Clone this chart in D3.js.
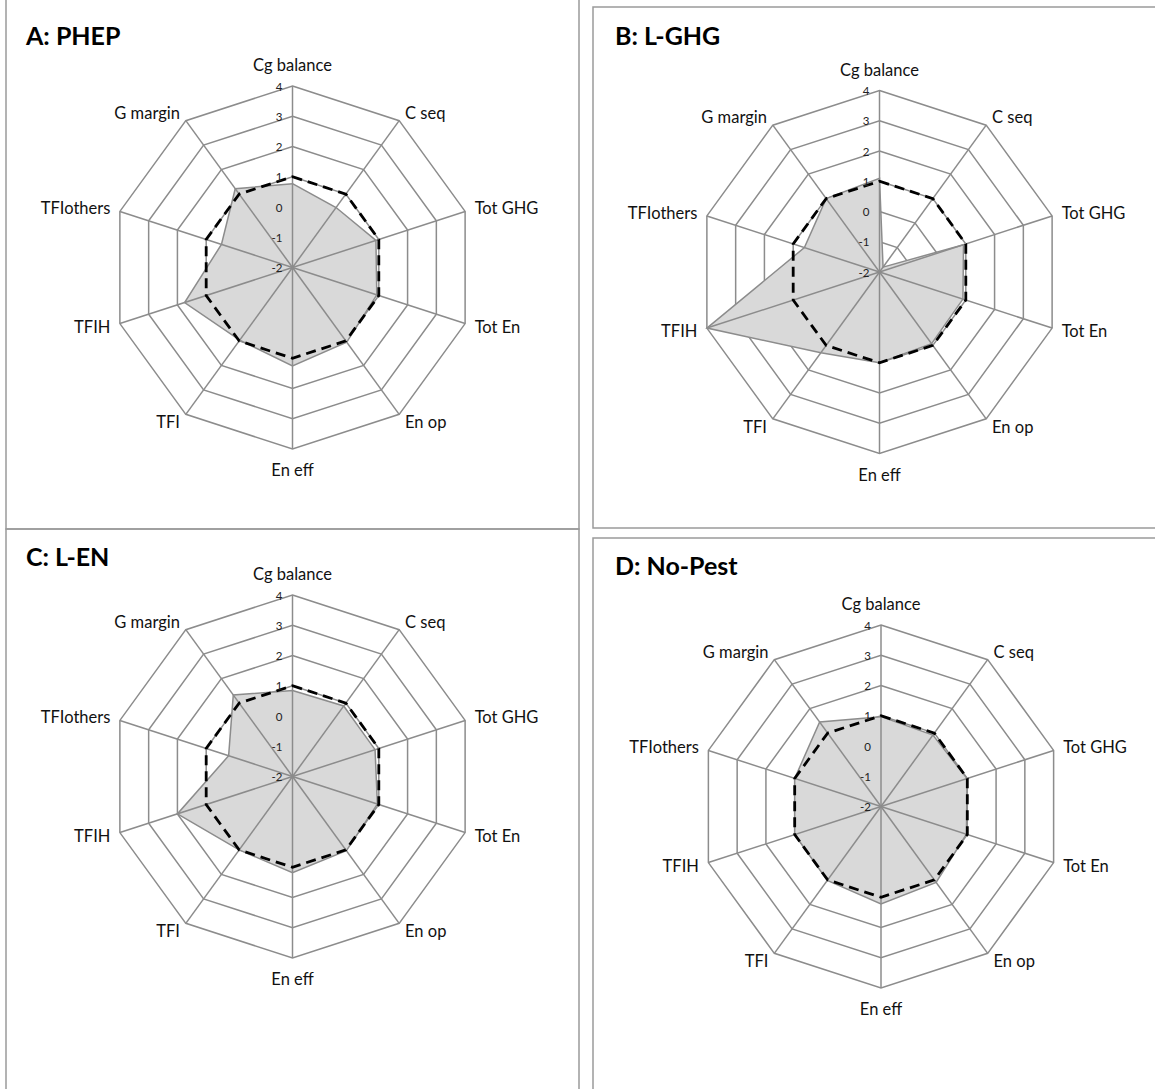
<!DOCTYPE html>
<html lang="en">
<head>
    <meta charset="UTF-8">
    <title>Radar</title>
    <style>
        body { margin: 0; background: #fff; }
        text { font-family: Lato, "Open Sans", sans-serif; }
    </style>
</head>
<body>
<div id="chart"></div>

<script src="https://cdnjs.cloudflare.com/ajax/libs/d3/7.8.5/d3.min.js"></script>

<script>
    // axes, clockwise from the top
    const axes = ["Cg balance", "C seq", "Tot GHG", "Tot En", "En op", "En eff", "TFI", "TFIH", "TFIothers", "G margin"];
    const ticks = [-2, -1, 0, 1, 2, 3, 4];
    const titles = ["A: PHEP", "B: L-GHG", "C: L-EN", "D: No-Pest"];

    // reference scenario (dashed) and each scenario (grey area)
    const reference = [1, 1, 1, 1, 1, 1, 1, 1, 1, 1];
    const phep   = [0.77, 0.45, 0.9, 0.93, 1.05, 1.25, 0.97, 1.75, 0.47, 1.22];
    const lghg   = [1.1, -1.8, 0.92, 0.9, 0.93, 1.0, 1.3, 4, 0.61, 1.0];
    const len    = [0.84, 0.88, 0.87, 0.95, 1.03, 1.18, 1.0, 2.0, 0.22, 1.33];
    const nopest = [0.97, 0.92, 0.99, 0.97, 1.1, 1.22, 1.02, 1.0, 1.0, 1.45];
    const scenarios = [phep, lghg, len, nopest];

    //layout of the four boxes
    const boxes = [
        {x: 6,   y: -2,  w: 573, h: 531, cx: 292.5, cy: 267.5, tx: 26,  ty: 45},
        {x: 593, y: 7,   w: 600, h: 521, cx: 879.5, cy: 272,   tx: 615, ty: 45},
        {x: 6,   y: 529, w: 573, h: 600, cx: 292.5, cy: 776.5, tx: 26,  ty: 566},
        {x: 593, y: 538, w: 600, h: 600, cx: 881,   cy: 806.5, tx: 615, ty: 575}
    ];
    const R = 181.5;
    const gridColor = "#8c8c8c";

    const svg = d3.select("#chart").append("svg")
        .attr("width", 1155)
        .attr("height", 1089);

    const r = d3.scaleLinear().domain([-2, 4]).range([0, R]);
    const angle = d3.scaleLinear().domain([0, axes.length]).range([0, 2 * Math.PI]);

    const radar = d3.lineRadial()
        .angle((d, i) => angle(i))
        .radius(d => r(d))
        .curve(d3.curveLinearClosed);

    function drawPanel(box, title, values) {
        svg.append("rect")
            .attr("x", box.x).attr("y", box.y)
            .attr("width", box.w).attr("height", box.h)
            .attr("fill", "none")
            .attr("stroke", "#9a9a9a")
            .attr("stroke-width", 1.5);

        svg.append("text")
            .attr("x", box.tx).attr("y", box.ty)
            .attr("font-size", 25)
            .attr("font-weight", "bold")
            .attr("fill", "#000")
            .text(title);

        const g = svg.append("g").attr("transform", `translate(${box.cx},${box.cy})`);

        // rings
        g.selectAll("path.ring")
            .data(ticks.slice(1))
            .join("path")
            .attr("class", "ring")
            .attr("d", t => radar(axes.map(() => t)))
            .attr("fill", "none")
            .attr("stroke", gridColor)
            .attr("stroke-width", 1.5);

        // scenario area
        g.append("path")
            .attr("d", radar(values))
            .attr("fill", "#d9d9d9")
            .attr("stroke", gridColor)
            .attr("stroke-width", 1.5);

        // spokes
        g.selectAll("line.spoke")
            .data(axes)
            .join("line")
            .attr("class", "spoke")
            .attr("x1", 0).attr("y1", 0)
            .attr("x2", (d, i) => R * Math.sin(angle(i)))
            .attr("y2", (d, i) => -R * Math.cos(angle(i)))
            .attr("stroke", gridColor)
            .attr("stroke-width", 1.5);

        // reference, dashed
        g.append("path")
            .attr("d", radar(reference))
            .attr("fill", "none")
            .attr("stroke", "#000")
            .attr("stroke-width", 2.8)
            .attr("stroke-dasharray", "10,6");

        // tick labels along the first axis
        g.selectAll("text.tick")
            .data(ticks)
            .join("text")
            .attr("class", "tick")
            .attr("x", -10)
            .attr("y", t => -r(t))
            .attr("text-anchor", "end")
            .attr("dominant-baseline", "central")
            .attr("font-size", 11.5)
            .attr("fill", "#222")
            .text(t => t);

        // axis labels
        g.selectAll("text.axis")
            .data(axes)
            .join("text")
            .attr("class", "axis")
            .attr("x", (d, i) => (R + 10) * Math.sin(angle(i)))
            .attr("y", (d, i) => {
                const c = Math.cos(angle(i));
                let y = -(R + 10) * c;
                if (c > 0.99) y -= 11;
                if (c < -0.99) y += 11;
                return y;
            })
            .attr("text-anchor", (d, i) => {
                const s = Math.sin(angle(i));
                return s > 0.1 ? "start" : (s < -0.1 ? "end" : "middle");
            })
            .attr("dominant-baseline", "central")
            .attr("font-size", 16.5)
            .attr("fill", "#111")
            .text(d => d);
    }

    boxes.forEach((box, i) => drawPanel(box, titles[i], scenarios[i]));
</script>
</body>
</html>
